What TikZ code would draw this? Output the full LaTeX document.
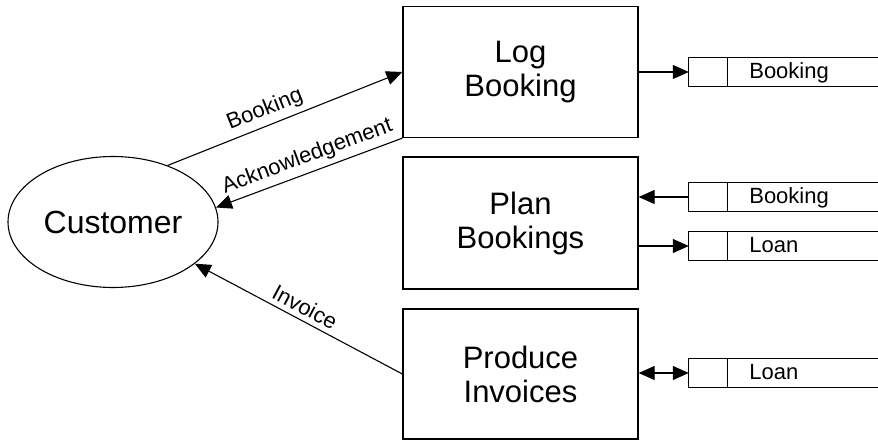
\documentclass[tikz,border=0pt]{standalone}
\usepackage{fontspec}
\setmainfont{Liberation Sans}
\usetikzlibrary{arrows.meta,shapes.geometric}
\begin{document}
\begin{tikzpicture}[x=1pt,y=-1pt,
  proc/.style={draw, line width=1.3pt, minimum width=235pt, align=center,
    font=\fontsize{31}{34}\selectfont, inner sep=0pt},
  tip/.tip={Triangle[length=16pt,width=14pt]},
  flow/.style={line width=1.1pt, -tip},
  biflow/.style={line width=1.1pt, tip-tip},
  lbl/.style={font=\fontsize{22}{25}\selectfont, sloped, above=3pt, inner sep=2pt},
  store/.style={minimum width=189pt, minimum height=28pt, inner sep=0pt},
  stline/.style={line width=1.1pt},
  stxt/.style={font=\fontsize{22}{25}\selectfont, anchor=base west}
]
\useasboundingbox (0,0) rectangle (878,441);

\node[draw, ellipse, line width=1.1pt, minimum width=210pt, minimum height=131pt,
  font=\fontsize{32}{36}\selectfont, inner sep=0pt] (cust) at (113,222) {Customer};

\node[proc, minimum height=131pt] (log) at (520.5,72) {Log\\Booking};
\node[proc, minimum height=132pt] (plan) at (520.5,223) {Plan\\Bookings};
\node[proc, minimum height=130pt] (prod) at (520.5,374) {Produce\\Invoices};

% data stores
\node[store] (s1) at (783.5,72) {};
\node[store] (s2) at (783.5,197) {};
\node[store] (s3) at (783.5,246) {};
\node[store] (s4) at (783.5,373) {};
\foreach \s/\t in {s1/Booking, s2/Booking, s3/Loan, s4/Loan} {
  \draw[stline] (\s.north east) -- (\s.north west) -- (\s.south west) -- (\s.south east);
  \draw[stline] ([xshift=39pt]\s.north west) -- ([xshift=39pt]\s.south west);
  \node[stxt] at ([xshift=57pt,yshift=-6.5pt]\s.west) {\t};
}

% flows with customer
\draw[flow] (cust.46.5) -- (log.west) node[lbl, pos=0.44] {Booking};
\draw[flow] (log.south west) -- (cust.8) node[lbl, pos=0.48] {Acknowledgement};
\draw[flow] (prod.west) -- (cust.-27.7) node[lbl, pos=0.5] {Invoice};

% flows with stores
\draw[flow] (log.east) -- (s1.west);
\draw[flow] (s2.west) -- (s2.west -| plan.east);
\draw[flow] (s3.west -| plan.east) -- (s3.west);
\draw[biflow] (s4.west -| prod.east) -- (s4.west);
\end{tikzpicture}
\end{document}
